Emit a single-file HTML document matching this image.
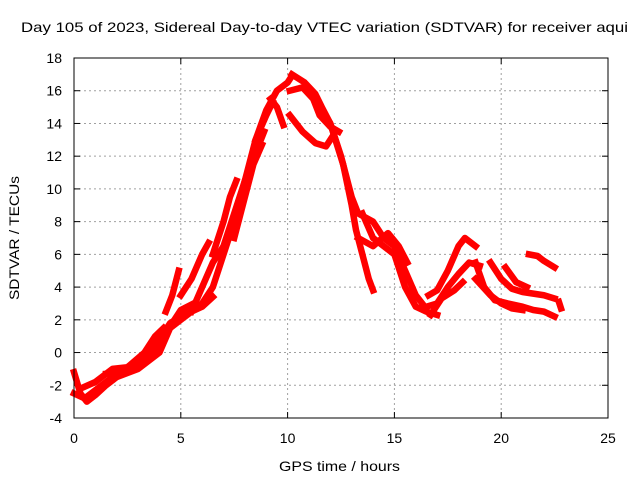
<!DOCTYPE html>
<html><head><meta charset="utf-8"><style>
body{margin:0;background:#fff;}
svg{display:block;font-family:"Liberation Sans",sans-serif;}
</style></head><body>
<svg id="chart" width="640" height="480" viewBox="0 0 640 480">
<rect width="640" height="480" fill="#fff"/>
<text x="21" y="32" font-size="14" textLength="607" lengthAdjust="spacingAndGlyphs">Day 105 of 2023, Sidereal Day-to-day VTEC variation (SDTVAR) for receiver aqui</text>
<text x="279" y="471" font-size="14" textLength="121" lengthAdjust="spacingAndGlyphs">GPS time / hours</text>
<text transform="translate(19,300) rotate(-90)" font-size="14" textLength="124" lengthAdjust="spacingAndGlyphs">SDTVAR / TECUs</text>
<g id="grid"></g><g id="ticks"></g><g id="series"></g>
<rect x="74" y="58" width="534" height="360" fill="none" stroke="#000" stroke-width="1"/>
</svg>
<script>
const xTicks=[0,5,10,15,20,25];
const yTicks=[-4,-2,0,2,4,6,8,10,12,14,16,18];
const arcA=[[0,-1.2],[0.3,-2.5],[0.6,-3],[1,-2.6],[1.5,-2],[2,-1.5],[3,-1],[4,0],[4.5,1.5],[5,2],[5.5,2.5],[6,3],[6.5,4],[7,6],[7.5,8],[8,10.5],[8.5,13],[9,14.5],[9.3,15.3]];
const arcB=[[0,-2.5],[0.5,-2.8],[1,-2.3],[2,-1.3],[3,-0.6],[4,0.8],[4.5,1.8],[5,2.2],[6,2.8],[6.5,3.4]];
const arcB2=[[0.3,-2.2],[1,-1.8],[1.8,-1],[2.5,-0.9],[3.3,0],[3.8,1],[4.2,1.5]];
const arcB3=[[1.5,-1.3],[2.5,-1.2],[3.5,-0.4],[4.3,1.2],[5,2.6],[5.6,3]];
const arcC=[[4.3,2.5],[4.6,3.5],[4.9,5]];
const arcD=[[5,3.5],[5.5,4.5],[6,6],[6.3,6.7]];
const arcE=[[5.5,2.5],[6,4],[6.5,5.5],[7,6.5],[7.5,8.5],[8,10.5],[8.3,11.5],[8.6,12.5],[8.9,13.5]];
const arcF=[[6.5,6],[7,8],[7.3,9.5],[7.6,10.5]];
const arcG=[[7.5,7],[8,9.5],[8.4,11.5],[8.8,12.7]];
const arcH=[[8.5,13],[9,14.8],[9.5,16],[10,16.5],[10.2,16.9]];
const arcI=[[9.2,15.5],[9.5,15],[9.8,13.9]];
const arcJ=[[10.2,17],[10.8,16.5],[11.3,15.8],[11.6,15],[12,14],[12.5,12],[13,9.5],[13.3,8.5],[14,8],[14.5,7],[15,6.5],[15.5,5],[16,3.5],[16.3,3]];
const arcK=[[10.1,16],[10.7,16.2],[11.2,15.5],[11.5,14.5],[12,13.8],[12.4,13.5]];
const arcL=[[10.1,14.5],[10.7,13.5],[11.3,12.8],[11.8,12.6],[12.1,13.2]];
const arcM=[[11.5,15],[12,14],[12.6,11.5],[13,9],[13.2,7.5],[13.5,6],[13.8,4.5],[14,3.8]];
const arcN=[[13.5,8.5],[14,7],[14.5,6.5],[15,6],[15.5,4],[16,2.8],[16.5,2.5],[17,2.3]];
const arcO=[[13.3,7],[14,6.5],[14.7,7.3],[15.2,6.5],[15.6,5.5]];
const arcP=[[16.6,3.5],[17,3.8],[17.5,5],[18,6.5],[18.3,7],[18.8,6.5]];
const arcQ=[[16.5,2.8],[17,3],[17.5,4],[18,4.8],[18.5,5.5],[19,5.3]];
const arcR=[[16.7,2.3],[17.2,3.3],[17.8,3.8],[18.2,4.3]];
const arcS=[[18.8,5.5],[19.2,4],[19.7,3.2],[20.3,3],[21,2.8],[21.5,2.6],[22,2.5],[22.5,2.2]];
const arcT=[[18.8,4.5],[19.5,3.5],[20,3],[20.5,2.7],[21,2.6]];
const arcU=[[19.5,5.5],[20,4.5],[20.5,3.9],[21,3.7],[21.5,3.6],[22,3.5],[22.5,3.3]];
const arcV=[[20.2,5.2],[20.7,4.3],[21.2,4]];
const arcW=[[21.3,6],[21.7,5.9],[22,5.6],[22.5,5.2]];
const arcX=[[22.7,3.1],[22.8,2.7]];
const arcs=[arcA,arcB,arcB2,arcB3,arcC,arcD,arcE,arcF,arcG,arcH,arcI,arcJ,arcK,arcL,arcM,arcN,arcO,arcP,arcQ,arcR,arcS,arcT,arcU,arcV,arcW,arcX];
const NS="http://www.w3.org/2000/svg";
const X0=74,X1=608,Y0=418,Y1=58;
function xs(v){return X0+(v-0)/(25-0)*(X1-X0);}
function ys(v){return Y0-(v+4)/(18+4)*(Y0-Y1);}
const grid=document.getElementById('grid'),ticks=document.getElementById('ticks'),ser=document.getElementById('series');
function mk(tag,at,parent){const e=document.createElementNS(NS,tag);for(const k in at)e.setAttribute(k,at[k]);parent.appendChild(e);return e;}
xTicks.forEach(t=>{
  const x=xs(t);
  if(t>0&&t<25){const g=mk('line',{x1:x,x2:x,y1:Y1,y2:Y0,stroke:'#a0a0a0','stroke-dasharray':'2,3'},grid);
  
  }
  mk('line',{x1:x,x2:x,y1:Y0,y2:Y0-6,stroke:'#000'},ticks);
  mk('line',{x1:x,x2:x,y1:Y1,y2:Y1+6,stroke:'#000'},ticks);
  const l=mk('text',{x:x,y:443,'text-anchor':'middle','font-size':'14'},ticks);
  l.textContent=t;
  
  
});
yTicks.forEach(t=>{
  const y=ys(t);
  if(t>-4&&t<18){const g=mk('line',{x1:X0,x2:X1,y1:y,y2:y,stroke:'#a0a0a0','stroke-dasharray':'2,3'},grid);
  
  }
  mk('line',{x1:X0,x2:X0+6,y1:y,y2:y,stroke:'#000'},ticks);
  mk('line',{x1:X1,x2:X1-6,y1:y,y2:y,stroke:'#000'},ticks);
  const l=mk('text',{x:62,y:y+5,'text-anchor':'end','font-size':'14'},ticks);
  l.textContent=t;
  
  
});
arcs.forEach((a,i)=>{
  const p=mk('polyline',{points:a.map(d=>xs(d[0])+','+ys(d[1])).join(' '),fill:'none',stroke:'#ff0000','stroke-width':'6.5','stroke-linejoin':'round','stroke-linecap':'square'},ser);
  
  
});
</script>
</body></html>
